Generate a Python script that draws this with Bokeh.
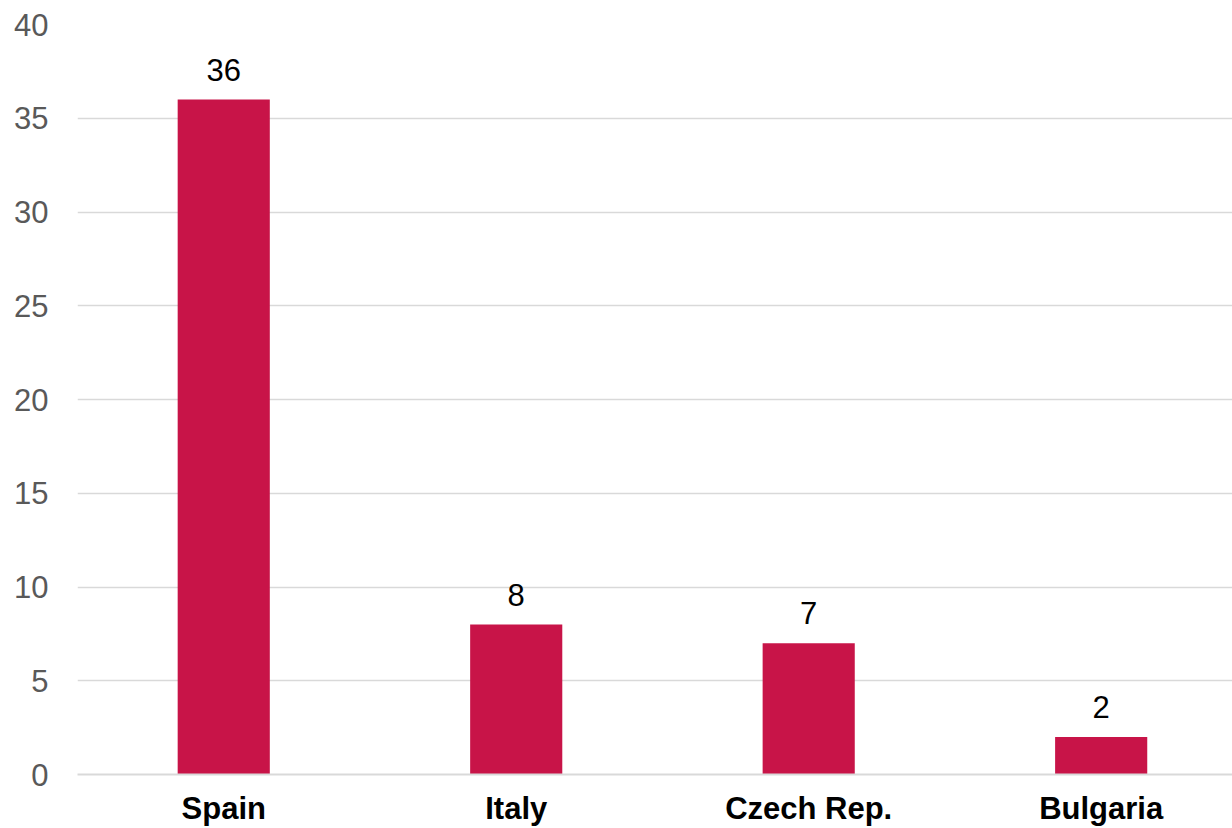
from bokeh.plotting import figure
from bokeh.models import ColumnDataSource, Range1d, FixedTicker
from bokeh.embed import file_html
from bokeh.resources import INLINE
from bokeh.core.properties import value

countries = ["Spain", "Italy", "Czech Rep.", "Bulgaria"]
counts = [36, 8, 7, 2]
y_ticks = [0, 5, 10, 15, 20, 25, 30, 35, 40]

xs = list(range(len(countries)))
src = ColumnDataSource(dict(x=xs, top=counts, label=[str(c) for c in counts]))

p = figure(width=1232, height=828, output_backend="svg", toolbar_location=None,
           x_range=Range1d(-0.5, 3.449), y_range=Range1d(0, 40),
           min_border_left=77, min_border_right=0, min_border_top=24, min_border_bottom=54)
p.outline_line_color = None
p.background_fill_color = "white"

p.vbar(x="x", top="top", bottom=0, width=0.315, source=src, color="#C81448", line_color=None)
p.text(x="x", y="top", text="label", source=src, text_align="center", text_baseline="alphabetic",
       y_offset=-30, text_font=value("Liberation Sans"), text_font_size="31px", text_color="#000000")

# y axis
p.yaxis.ticker = FixedTicker(ticks=y_ticks)
p.yaxis.axis_line_color = None
p.yaxis.major_tick_line_color = None
p.yaxis.minor_tick_line_color = None
p.yaxis.major_label_text_font = "Liberation Sans"
p.yaxis.major_label_text_font_size = "31px"
p.yaxis.major_label_text_color = "#595959"
p.yaxis.major_label_standoff = 23

# x axis
p.xaxis.ticker = FixedTicker(ticks=xs)
p.xaxis.major_label_overrides = {i: c for i, c in zip(xs, countries)}
p.xaxis.axis_line_color = "#d9d9d9"
p.xaxis.axis_line_width = 2
p.xaxis.major_tick_line_color = None
p.xaxis.minor_tick_line_color = None
p.xaxis.major_label_text_font = "Liberation Sans"
p.xaxis.major_label_text_font_style = "bold"
p.xaxis.major_label_text_font_size = "31px"
p.xaxis.major_label_text_color = "#000000"
p.xaxis.major_label_standoff = 10

p.xgrid.grid_line_color = None
p.ygrid.ticker = FixedTicker(ticks=y_ticks)
p.ygrid.grid_line_color = "#d9d9d9"
p.ygrid.grid_line_width = 1.5

open("out.html", "w").write(file_html(p, INLINE))
